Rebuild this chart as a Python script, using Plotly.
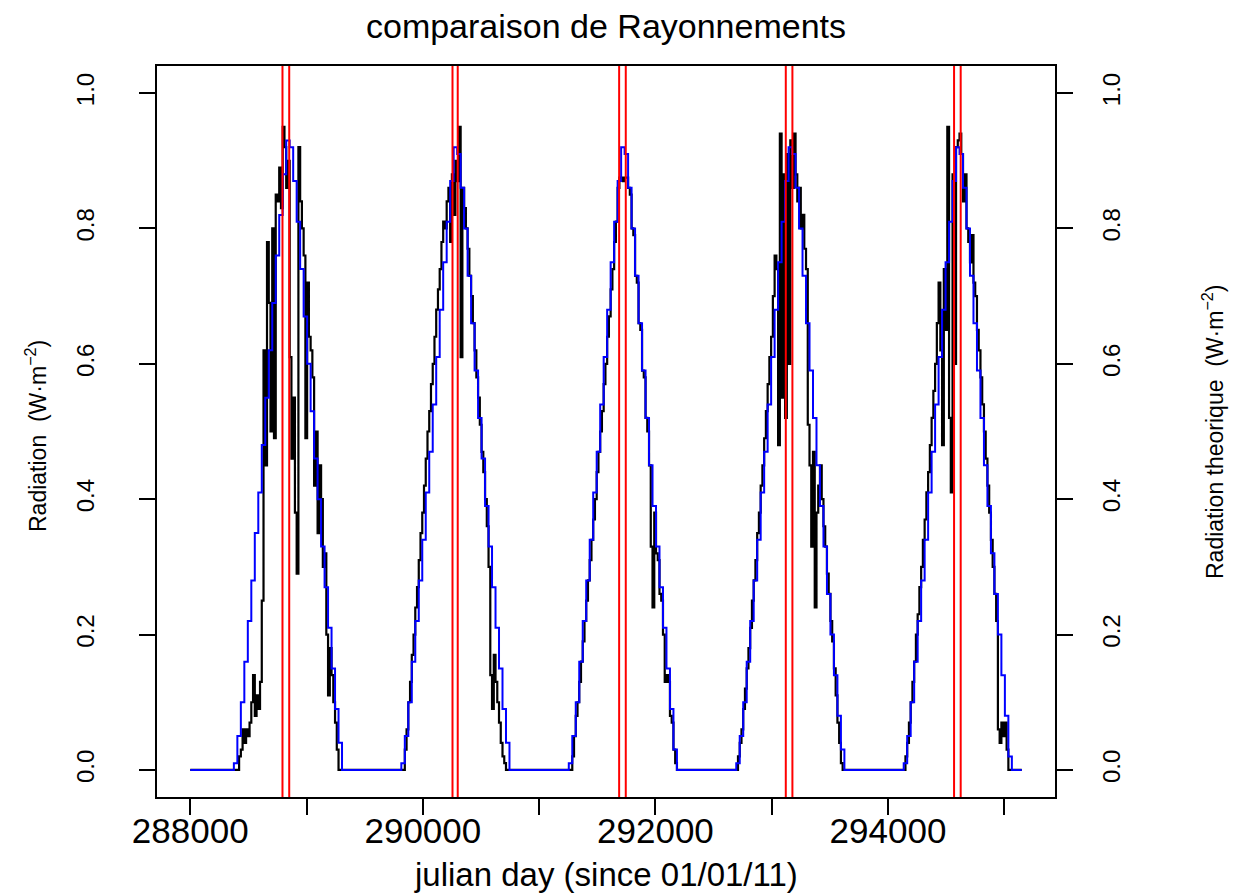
import plotly.graph_objects as go

# ---------------- data (minutes since 01/01/11) ----------------
X_START = 288000
X_END = 295150
DAY_STARTS = [288000, 289440, 290880, 292320, 293760]

# sampling offsets within a day (minutes)
BLUE_OFFSETS = list(range(375, 1276, 30))    # theoretical radiation, half-hourly
BLACK_OFFSETS = list(range(375, 1291, 15))   # measured radiation, quarter-hourly
DAY_END_OFFSET = 1305

BLUE_D1 = [0.01, 0.05, 0.10, 0.16, 0.22, 0.28, 0.35, 0.41, 0.48, 0.55, 0.62, 0.69, 0.76, 0.82, 0.88, 0.93,
           0.92, 0.87, 0.81, 0.74, 0.67, 0.60, 0.53, 0.46, 0.40, 0.33, 0.27, 0.21, 0.15, 0.09, 0.04]
BLUE_D2 = [0.01, 0.05, 0.10, 0.16, 0.22, 0.28, 0.34, 0.41, 0.47, 0.54, 0.61, 0.68, 0.75, 0.81, 0.87, 0.92,
           0.91, 0.86, 0.80, 0.73, 0.66, 0.59, 0.52, 0.46, 0.39, 0.33, 0.27, 0.21, 0.15, 0.09, 0.04]
BLUE_D3 = [0.01, 0.05, 0.10, 0.16, 0.22, 0.28, 0.34, 0.41, 0.47, 0.54, 0.61, 0.68, 0.75, 0.81, 0.87, 0.92,
           0.91, 0.86, 0.80, 0.73, 0.66, 0.59, 0.52, 0.45, 0.39, 0.33, 0.27, 0.21, 0.15, 0.09, 0.03]
BLUE_D4 = [0.01, 0.05, 0.10, 0.16, 0.22, 0.28, 0.34, 0.41, 0.47, 0.54, 0.61, 0.68, 0.75, 0.81, 0.87, 0.92,
           0.91, 0.86, 0.80, 0.73, 0.66, 0.59, 0.52, 0.45, 0.39, 0.33, 0.26, 0.20, 0.14, 0.08, 0.03]
BLUE_D5 = [0.01, 0.05, 0.10, 0.16, 0.22, 0.28, 0.34, 0.41, 0.47, 0.54, 0.61, 0.68, 0.75, 0.81, 0.87, 0.92,
           0.91, 0.86, 0.80, 0.73, 0.66, 0.59, 0.52, 0.45, 0.39, 0.32, 0.26, 0.20, 0.14, 0.08, 0.02]

BLACK_D1 = [0.00, 0.00, 0.00, 0.02, 0.03, 0.06, 0.04, 0.06, 0.05, 0.07, 0.10, 0.14, 0.08, 0.11, 0.09, 0.13,
            0.25, 0.62, 0.45, 0.78, 0.69, 0.50, 0.80, 0.49, 0.85, 0.84, 0.89, 0.83, 0.95, 0.92, 0.86, 0.90,
            0.61, 0.46, 0.55, 0.38, 0.29, 0.92, 0.84, 0.80, 0.76, 0.49, 0.72, 0.64, 0.62, 0.58, 0.42, 0.50,
            0.35, 0.45, 0.40, 0.30, 0.32, 0.20, 0.11, 0.18, 0.14, 0.10, 0.07, 0.03, 0.00, 0.00]
BLACK_D2 = [0.00, 0.00, 0.03, 0.06, 0.10, 0.13, 0.17, 0.20, 0.24, 0.27, 0.31, 0.35, 0.38, 0.42, 0.46, 0.50,
            0.53, 0.57, 0.60, 0.64, 0.68, 0.71, 0.74, 0.78, 0.81, 0.80, 0.84, 0.86, 0.78, 0.88, 0.82, 0.90,
            0.87, 0.95, 0.61, 0.86, 0.83, 0.80, 0.77, 0.73, 0.70, 0.66, 0.62, 0.58, 0.55, 0.51, 0.47, 0.44,
            0.40, 0.36, 0.30, 0.14, 0.09, 0.17, 0.13, 0.10, 0.07, 0.04, 0.02, 0.01, 0.00, 0.00]
BLACK_D3 = [0.00, 0.00, 0.02, 0.05, 0.08, 0.10, 0.13, 0.16, 0.19, 0.22, 0.25, 0.28, 0.31, 0.34, 0.37, 0.40,
            0.44, 0.47, 0.50, 0.53, 0.57, 0.60, 0.64, 0.67, 0.71, 0.74, 0.78, 0.81, 0.86, 0.875, 0.875, 0.87,
            0.875, 0.875, 0.86, 0.85, 0.80, 0.79, 0.73, 0.72, 0.66, 0.65, 0.59, 0.58, 0.52, 0.50, 0.45, 0.33,
            0.24, 0.38, 0.32, 0.31, 0.26, 0.25, 0.20, 0.13, 0.14, 0.13, 0.08, 0.07, 0.03, 0.01]
BLACK_D4 = [0.00, 0.02, 0.04, 0.06, 0.09, 0.12, 0.15, 0.18, 0.21, 0.25, 0.28, 0.31, 0.35, 0.38, 0.42, 0.45,
            0.49, 0.53, 0.57, 0.61, 0.64, 0.70, 0.76, 0.74, 0.48, 0.94, 0.55, 0.88, 0.52, 0.91, 0.60, 0.93,
            0.86, 0.94, 0.88, 0.84, 0.86, 0.80, 0.82, 0.77, 0.74, 0.51, 0.45, 0.33, 0.47, 0.24, 0.38, 0.42,
            0.45, 0.40, 0.36, 0.33, 0.29, 0.26, 0.22, 0.19, 0.15, 0.11, 0.07, 0.04, 0.01, 0.00]
BLACK_D5 = [0.00, 0.02, 0.04, 0.07, 0.10, 0.13, 0.16, 0.20, 0.23, 0.27, 0.30, 0.34, 0.37, 0.41, 0.44, 0.48,
            0.52, 0.56, 0.60, 0.66, 0.72, 0.62, 0.48, 0.74, 0.65, 0.95, 0.52, 0.41, 0.88, 0.60, 0.92, 0.93,
            0.94, 0.91, 0.84, 0.88, 0.80, 0.78, 0.75, 0.79, 0.72, 0.70, 0.65, 0.62, 0.58, 0.54, 0.50, 0.46,
            0.42, 0.38, 0.34, 0.30, 0.26, 0.22, 0.06, 0.04, 0.07, 0.05, 0.07, 0.03, 0.00, 0.00]

BLUE_DAYS = [BLUE_D1, BLUE_D2, BLUE_D3, BLUE_D4, BLUE_D5]
BLACK_DAYS = [BLACK_D1, BLACK_D2, BLACK_D3, BLACK_D4, BLACK_D5]

# vertical reference lines (abline v=...)
RED_TIMES = [288793, 288851, 290255, 290300, 291688, 291745, 293121, 293178, 294568, 294625]

X_RANGE = [287714, 295436]
X_MAJOR_TICKS = [288000, 290000, 292000, 294000]
X_MAJOR_TEXT = ["288000", "290000", "292000", "294000"]
X_MINOR_TICKS = [289000, 291000, 293000, 295000]
Y_RANGE = [-0.04, 1.04]
Y_TICKS = [0.0, 0.2, 0.4, 0.6, 0.8, 1.0]
Y_TICK_TEXT = ["0.0", "0.2", "0.4", "0.6", "0.8", "1.0"]

TITLE = "comparaison de Rayonnements"
X_TITLE = "julian day (since 01/01/11)"
Y_TITLE = "Radiation  (W·m<sup>−2</sup>)"
Y2_TITLE = "Radiation theorique  (W·m<sup>−2</sup>)"


def build_series(offsets, day_values):
    xs, ys = [X_START], [0.0]
    for ds, vals in zip(DAY_STARTS, day_values):
        for off, v in zip(offsets, vals):
            xs.append(ds + off)
            ys.append(v)
        xs.append(ds + DAY_END_OFFSET)
        ys.append(0.0)
    xs.append(X_END)
    ys.append(0.0)
    return xs, ys


bx, by = build_series(BLACK_OFFSETS, BLACK_DAYS)
tx, ty = build_series(BLUE_OFFSETS, BLUE_DAYS)

FONT = "Liberation Sans, Arial, sans-serif"
W, H = 1240, 893
PAGE_OFF = 8  # default page body margin of the html page
ML, MR, MT, MB = 157 - PAGE_OFF, 185 + PAGE_OFF, 66 - PAGE_OFF, 96 + PAGE_OFF
PW, PH = W - ML - MR, H - MT - MB


def px_to_paper_x(px):
    return (px - PAGE_OFF - ML) / PW


def px_to_paper_y(py):
    return (H - MB + PAGE_OFF - py) / PH


fig = go.Figure()
fig.add_trace(go.Scatter(x=bx, y=by, mode="lines", line=dict(color="black", width=2.2, shape="hv"),
                         name="Radiation", yaxis="y"))
fig.add_trace(go.Scatter(x=tx, y=ty, mode="lines", line=dict(color="#0000ff", width=2, shape="hv"),
                         name="Radiation theorique", yaxis="y2"))

shapes = []
for t in RED_TIMES:
    shapes.append(dict(type="line", xref="x", yref="paper", x0=t, x1=t, y0=0, y1=1,
                       line=dict(color="#ff0000", width=2), layer="above"))

axis_common = dict(ticks="outside", ticklen=16, tickwidth=1.5, tickcolor="black", automargin=False,
                   showline=True, linecolor="black", linewidth=1.5, showgrid=False, zeroline=False)

annotations = [
    dict(text=X_TITLE, xref="paper", yref="paper", x=px_to_paper_x(606), y=px_to_paper_y(874),
         xanchor="center", yanchor="middle", showarrow=False, font=dict(size=33)),
    dict(text=Y_TITLE, xref="paper", yref="paper", x=px_to_paper_x(36), y=px_to_paper_y(436),
         xanchor="center", yanchor="middle", textangle=-90, showarrow=False, font=dict(size=23)),
    dict(text=Y2_TITLE, xref="paper", yref="paper", x=px_to_paper_x(1213), y=px_to_paper_y(432),
         xanchor="center", yanchor="middle", textangle=-90, showarrow=False, font=dict(size=23)),
]

fig.update_layout(
    width=W, height=H, autosize=False,
    margin=dict(l=ML, r=MR, t=MT, b=MB, pad=0),
    paper_bgcolor="white", plot_bgcolor="white",
    showlegend=False,
    font=dict(family=FONT, color="black"),
    shapes=shapes,
    annotations=annotations,
    title=dict(text=TITLE, x=0.5, xref="paper", xanchor="center",
               y=1 - (26 - PAGE_OFF) / H, yref="container", yanchor="middle",
               font=dict(size=34, color="black")),
    xaxis=dict(range=X_RANGE, tickmode="array", tickvals=X_MAJOR_TICKS, ticktext=X_MAJOR_TEXT,
               minor=dict(tickmode="array", tickvals=X_MINOR_TICKS, ticks="outside", ticklen=16,
                          tickwidth=1.5, tickcolor="black", showgrid=False),
               mirror=True, tickfont=dict(size=35), ticklabelstandoff=-14,
               **axis_common),
    yaxis=dict(range=Y_RANGE, tickmode="array", tickvals=Y_TICKS, ticktext=Y_TICK_TEXT,
               tickangle=-90, tickfont=dict(size=24), ticklabelstandoff=36,
               **axis_common),
    yaxis2=dict(range=Y_RANGE, tickmode="array", tickvals=Y_TICKS, ticktext=Y_TICK_TEXT,
                overlaying="y", side="right", anchor="x",
                tickangle=-90, tickfont=dict(size=24), ticklabelstandoff=18,
                **axis_common),
)

fig.write_html("out.html")
